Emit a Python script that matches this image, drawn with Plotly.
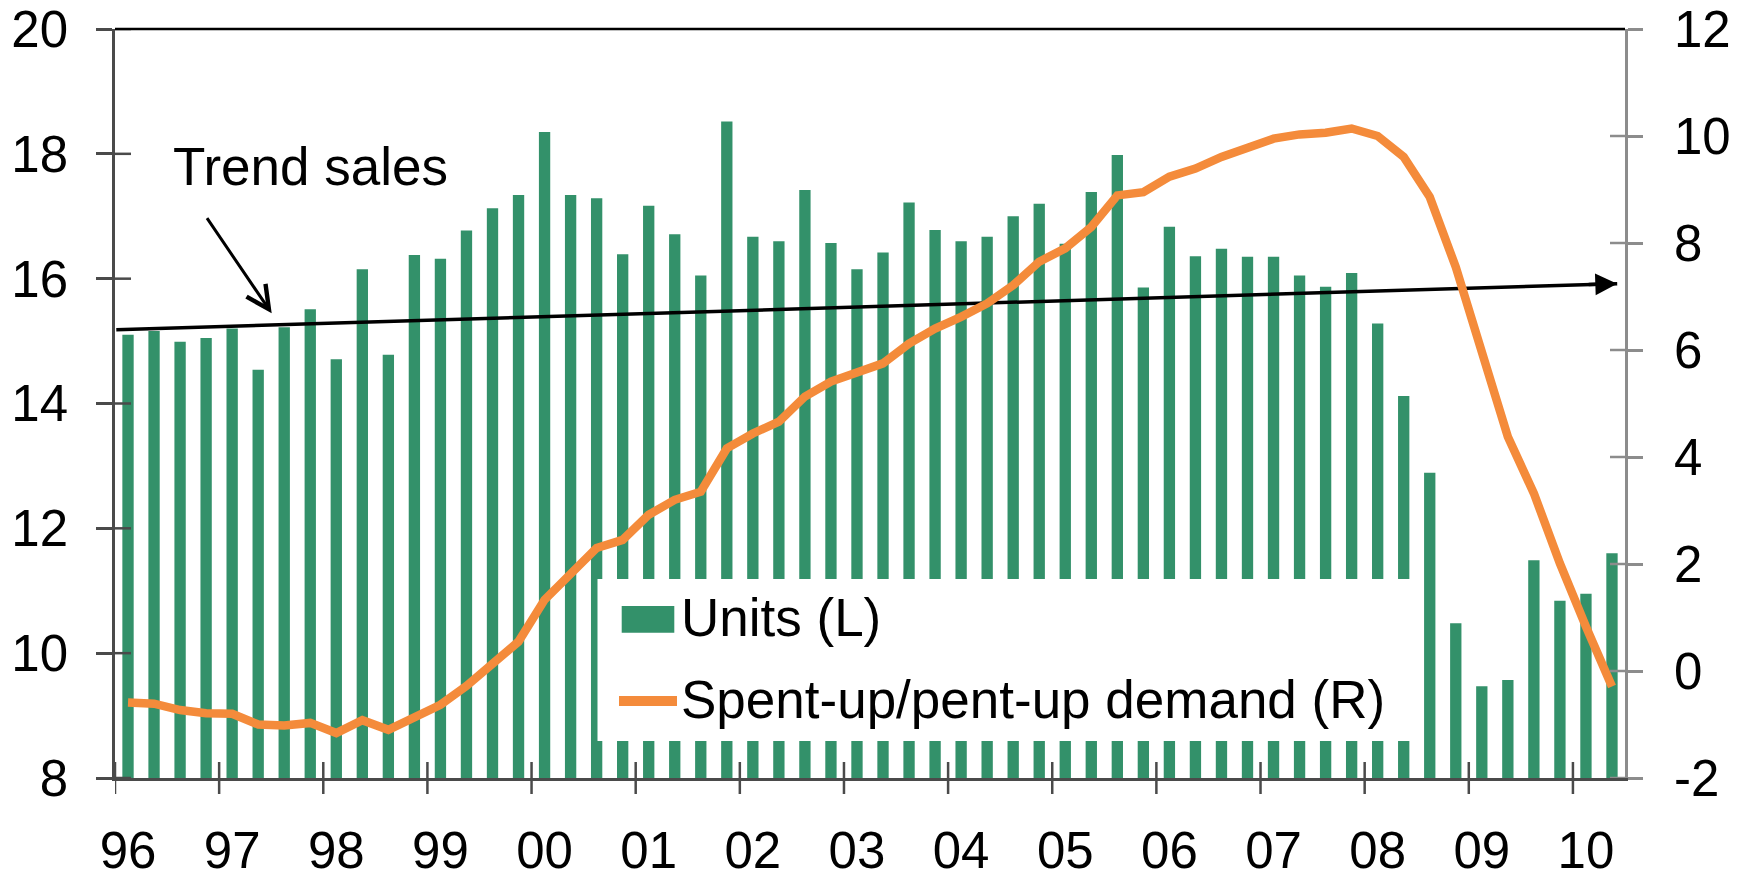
import plotly.graph_objects as go

# ---------------- data ----------------
years = ['96', '97', '98', '99', '00', '01', '02', '03', '04', '05', '06', '07', '08', '09', '10']
quarters = [f"{y}Q{q}" for y in years for q in (1, 2, 3, 4)][:58]

units = [15.10, 15.16, 14.99, 15.05, 15.20, 14.54, 15.22, 15.51, 14.71, 16.15,
         14.78, 16.38, 16.32, 16.77, 17.13, 17.34, 18.35, 17.34, 17.29, 16.39,
         17.17, 16.71, 16.05, 18.52, 16.67, 16.60, 17.42, 16.57, 16.15, 16.42,
         17.22, 16.78, 16.60, 16.67, 17.00, 17.20, 16.56, 17.39, 17.98, 15.86,
         16.83, 16.36, 16.48, 16.35, 16.35, 16.05, 15.87, 16.09, 15.28, 14.12,
         12.89, 10.48, 9.47, 9.57, 11.49, 10.84, 10.95, 11.60]

demand = [-0.59, -0.61, -0.73, -0.79, -0.80, -1.00, -1.02, -0.97, -1.16, -0.92,
          -1.10, -0.86, -0.63, -0.28, 0.12, 0.55, 1.33, 1.80, 2.30, 2.45,
          2.92, 3.20, 3.35, 4.16, 4.44, 4.66, 5.13, 5.41, 5.56, 5.75,
          6.12, 6.40, 6.62, 6.87, 7.21, 7.65, 7.90, 8.30, 8.89, 8.95,
          9.24, 9.39, 9.61, 9.78, 9.95, 10.03, 10.06, 10.14, 10.00, 9.61,
          8.86, 7.55, 6.00, 4.38, 3.32, 2.01, 0.83, -0.29]

# trend sales line (quarter index, units)
trend_x = [-0.45, 57.2]
trend_y = [15.18, 15.92]

left_ticks = [8, 10, 12, 14, 16, 18, 20]
right_ticks = [-2, 0, 2, 4, 6, 8, 10, 12]
right_labels = ['-2', '0', '2', '4', '6', '8', '10', '12']

# ---------------- layout constants ----------------
W, H = 1746, 881
OFF = 8  # page body margin
ML, MR, MT, MB = 107, 129, 21, 111
PW, PH = W - ML - MR, H - MT - MB
N = len(quarters)

GREEN = '#33916A'
ORANGE = '#F48B3B'
AX_DARK = '#4A4A4A'
AX_LIGHT = '#8C8C8C'
FONT = 'Liberation Sans, Arial, sans-serif'
TICK_SIZE = 51
TEXT_SIZE = 53


def pxx(px):  # screen pixel -> paper x
    return (px - OFF - ML) / PW


def pxy(py):  # screen pixel -> paper y
    return (H - MB - (py - OFF)) / PH


def px_to_xi(px):
    return pxx(px) * N - 0.5


def py_to_left(py):
    return 8 + pxy(py) * 12


xi = list(range(N))
label_pos = [4 * k for k in range(len(years))]
boundaries = [4 * k - 0.5 for k in range(len(years))]

fig = go.Figure()
fig.add_trace(go.Bar(x=xi, y=units, name='Units (L)', marker=dict(color=GREEN, line=dict(width=0)),
                     hovertext=quarters, yaxis='y'))
fig.add_trace(go.Scatter(x=trend_x, y=trend_y, mode='lines', name='Trend sales',
                         line=dict(color='black', width=3.5), hoverinfo='skip', yaxis='y'))
fig.add_trace(go.Scatter(x=xi, y=demand, mode='lines', name='Spent-up/pent-up demand (R)',
                         line=dict(color=ORANGE, width=8.5), hovertext=quarters, yaxis='y2'))

shapes = []
# cross ticks on x axis (category boundaries every 4 quarters)
for b in boundaries:
    shapes.append(dict(type='line', xref='x', yref='paper', x0=b, x1=b, y0=-16 / PH, y1=16 / PH,
                       line=dict(color=AX_DARK, width=2.5), layer='above'))
# inside ticks on left axis
for t in left_ticks:
    shapes.append(dict(type='line', xref='paper', yref='y', x0=0, x1=16 / PW, y0=t, y1=t,
                       line=dict(color=AX_DARK, width=2.5), layer='above'))
# inside ticks on right axis
for t in right_ticks:
    shapes.append(dict(type='line', xref='paper', yref='y2', x0=1 - 15 / PW, x1=1, y0=t, y1=t,
                       line=dict(color=AX_LIGHT, width=2.5), layer='above'))
# top border
shapes.append(dict(type='line', xref='paper', yref='paper', x0=0, x1=1, y0=1, y1=1,
                   line=dict(color='black', width=2.5), layer='above'))
# legend box and symbols
shapes.append(dict(type='rect', xref='paper', yref='paper', x0=pxx(597.5), x1=pxx(1417),
                   y0=pxy(741), y1=pxy(579), fillcolor='white', line=dict(width=0), layer='above'))
shapes.append(dict(type='rect', xref='paper', yref='paper', x0=pxx(621.7), x1=pxx(674.3),
                   y0=pxy(632.7), y1=pxy(606), fillcolor=GREEN, line=dict(width=0), layer='above'))
shapes.append(dict(type='line', xref='paper', yref='paper', x0=pxx(619), x1=pxx(677),
                   y0=pxy(701), y1=pxy(701), line=dict(color=ORANGE, width=10), layer='above'))

annotations = [
    dict(text='Units (L)', xref='paper', yref='paper', x=pxx(679), y=pxy(617),
         xanchor='left', yanchor='middle', showarrow=False,
         font=dict(size=TEXT_SIZE, color='black', family=FONT)),
    dict(text='Spent-up/pent-up demand (R)', xref='paper', yref='paper', x=pxx(679), y=pxy(699),
         xanchor='left', yanchor='middle', showarrow=False,
         font=dict(size=TEXT_SIZE, color='black', family=FONT)),
    dict(text='Trend sales', xref='x', yref='y', x=px_to_xi(171), y=py_to_left(166),
         xanchor='left', yanchor='middle', showarrow=False,
         font=dict(size=TEXT_SIZE, color='black', family=FONT)),
    dict(text='', xref='x', yref='y', x=px_to_xi(271.7), y=py_to_left(313.3),
         axref='x', ayref='y', ax=px_to_xi(206), ay=py_to_left(216.7),
         showarrow=True, arrowhead=5, arrowsize=1.5, arrowwidth=3, arrowcolor='black'),
    # arrowhead at end of trend line
    dict(text='', xref='x', yref='y', x=trend_x[-1], y=trend_y[-1], ax=-30, ay=0.94,
         showarrow=True, arrowhead=2, arrowsize=1.25, arrowwidth=3.5, arrowcolor='black'),
]

fig.update_layout(
    width=W, height=H,
    margin=dict(l=ML, r=MR, t=MT, b=MB, pad=0, autoexpand=False),
    paper_bgcolor='white', plot_bgcolor='white',
    showlegend=False,
    bargap=0.565,
    font=dict(family=FONT, size=TICK_SIZE, color='black'),
    xaxis=dict(range=[-0.5, N - 0.5], tickvals=label_pos, ticktext=years, ticks='',
               showline=True, linecolor=AX_DARK, linewidth=2.5, showgrid=False, zeroline=False,
               tickfont=dict(size=TICK_SIZE), ticklabelstandoff=26, automargin=False,
               ticklabeloverflow='allow'),
    yaxis=dict(range=[8, 20], tickvals=left_ticks, ticks='outside', ticklen=16, tickwidth=2.5,
               tickcolor=AX_DARK, showline=True, linecolor=AX_DARK, linewidth=2.5,
               showgrid=False, zeroline=False, tickfont=dict(size=TICK_SIZE),
               ticklabelstandoff=18, automargin=False, ticklabeloverflow='allow'),
    yaxis2=dict(range=[-2, 12], tickvals=right_ticks, ticktext=right_labels, overlaying='y',
                side='right', anchor='x',
                ticks='outside', ticklen=15, tickwidth=2.5, tickcolor=AX_LIGHT, showline=True,
                linecolor=AX_LIGHT, linewidth=2.5, showgrid=False, zeroline=False,
                tickfont=dict(size=TICK_SIZE), ticklabelstandoff=21, automargin=False,
                ticklabeloverflow='allow'),
    shapes=shapes,
    annotations=annotations,
)

fig.write_html('out.html')
